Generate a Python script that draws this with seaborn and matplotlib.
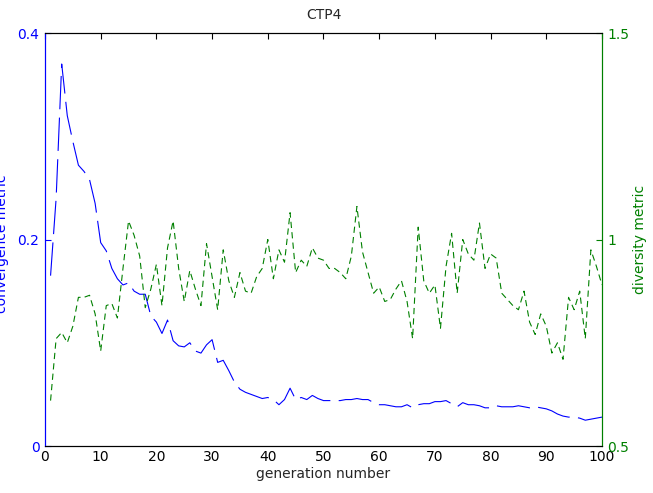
import numpy as np
import pandas as pd
import seaborn as sns
import matplotlib
matplotlib.use("Agg")
import matplotlib.pyplot as plt

# generation numbers and the two metrics
generation = list(range(1, 101))
convergence = [
    0.165, 0.240, 0.370, 0.320, 0.295, 0.272, 0.266, 0.258, 0.235, 0.197,
    0.189, 0.172, 0.162, 0.156, 0.158, 0.150, 0.147, 0.147, 0.126, 0.120,
    0.109, 0.122, 0.102, 0.097, 0.096, 0.100, 0.092, 0.090, 0.098, 0.103,
    0.081, 0.083, 0.073, 0.062, 0.055, 0.052, 0.050, 0.048, 0.046, 0.047,
    0.045, 0.040, 0.045, 0.056, 0.045, 0.047, 0.045, 0.049, 0.046, 0.044,
    0.044, 0.044, 0.044, 0.045, 0.045, 0.046, 0.045, 0.045, 0.042, 0.040,
    0.040, 0.039, 0.038, 0.038, 0.040, 0.037, 0.040, 0.041, 0.041, 0.043,
    0.043, 0.044, 0.041, 0.038, 0.042, 0.040, 0.040, 0.039, 0.037, 0.037,
    0.039, 0.038, 0.038, 0.038, 0.039, 0.038, 0.037, 0.038, 0.037, 0.036,
    0.034, 0.031, 0.029, 0.028, 0.028, 0.027, 0.025, 0.026, 0.027, 0.028,
]
diversity = [
    0.610, 0.760, 0.775, 0.750, 0.790, 0.860, 0.860, 0.865, 0.820, 0.730,
    0.840, 0.845, 0.810, 0.930, 1.045, 1.010, 0.960, 0.835, 0.880, 0.940,
    0.840, 0.980, 1.045, 0.930, 0.850, 0.925, 0.880, 0.840, 0.990, 0.910,
    0.830, 0.975, 0.900, 0.860, 0.920, 0.875, 0.870, 0.910, 0.930, 1.000,
    0.905, 0.975, 0.945, 1.065, 0.920, 0.950, 0.935, 0.980, 0.955, 0.950,
    0.930, 0.930, 0.920, 0.905, 0.960, 1.080, 0.970, 0.920, 0.870, 0.885,
    0.850, 0.855, 0.880, 0.900, 0.850, 0.760, 1.030, 0.900, 0.870, 0.890,
    0.785, 0.935, 1.015, 0.870, 1.000, 0.965, 0.950, 1.040, 0.930, 0.965,
    0.955, 0.870, 0.855, 0.840, 0.830, 0.875, 0.800, 0.770, 0.820, 0.790,
    0.725, 0.750, 0.710, 0.860, 0.830, 0.875, 0.760, 0.975, 0.935, 0.890,
]
x_ticks = list(range(0, 101, 10))
left_ticks = [0, 0.2, 0.4]
left_labels = ["0", "0.2", "0.4"]
right_ticks = [0.5, 1.0, 1.5]
right_labels = ["0.5", "1", "1.5"]

df = pd.DataFrame({"generation": generation, "convergence": convergence,
                   "diversity": diversity})

sns.set_style("white")
plt.rcParams["font.family"] = ["DejaVu Sans"]
plt.rcParams["lines.scale_dashes"] = False

fig = plt.figure(figsize=(6.53, 4.93), dpi=100)
ax = fig.add_axes([0.0689, 0.0953, 0.8530, 0.8377])
ax2 = ax.twinx()

blue = "#0000ff"
green = "#008000"

# convergence metric (left axis)
sns.lineplot(data=df, x="generation", y="convergence", ax=ax, color=blue, lw=0.8)
ax.lines[0].set_dashes([24, 6])

# diversity metric (right axis)
sns.lineplot(data=df, x="generation", y="diversity", ax=ax2, color=green, lw=0.8)
ax2.lines[0].set_dashes([4.5, 3])

ax.set_xlim(0, 100)
ax.set_ylim(0, 0.4)
ax2.set_ylim(0.5, 1.5)
ax.set_xticks(x_ticks)
ax.set_yticks(left_ticks)
ax.set_yticklabels(left_labels)
ax2.set_yticks(right_ticks)
ax2.set_yticklabels(right_labels)

ax.tick_params(axis="x", direction="in", length=4, top=True, labelsize=10,
               colors="black", pad=3)
ax.tick_params(axis="y", direction="in", length=4, labelsize=10,
               colors=blue, pad=4)
ax2.tick_params(axis="y", direction="in", length=4, labelsize=10,
                colors=green, pad=4)

for a in (ax, ax2):
    for s in a.spines.values():
        s.set_linewidth(0.8)
        s.set_color("black")
ax.spines["left"].set_color(blue)
ax2.spines["left"].set_color(blue)
ax2.spines["right"].set_color(green)
ax.spines["right"].set_color(green)

ax.set_title("CTP4", fontsize=10, pad=10)
ax.set_xlabel("generation number", fontsize=10, labelpad=2)
ax.set_ylabel("convergence metric", fontsize=10, color=blue)
ax.yaxis.set_label_coords(-0.064, 0.49)
ax2.set_ylabel("diversity metric", fontsize=10, color=green)
ax2.yaxis.set_label_coords(1.055, 0.5)

fig.savefig("out.png", dpi=100)
